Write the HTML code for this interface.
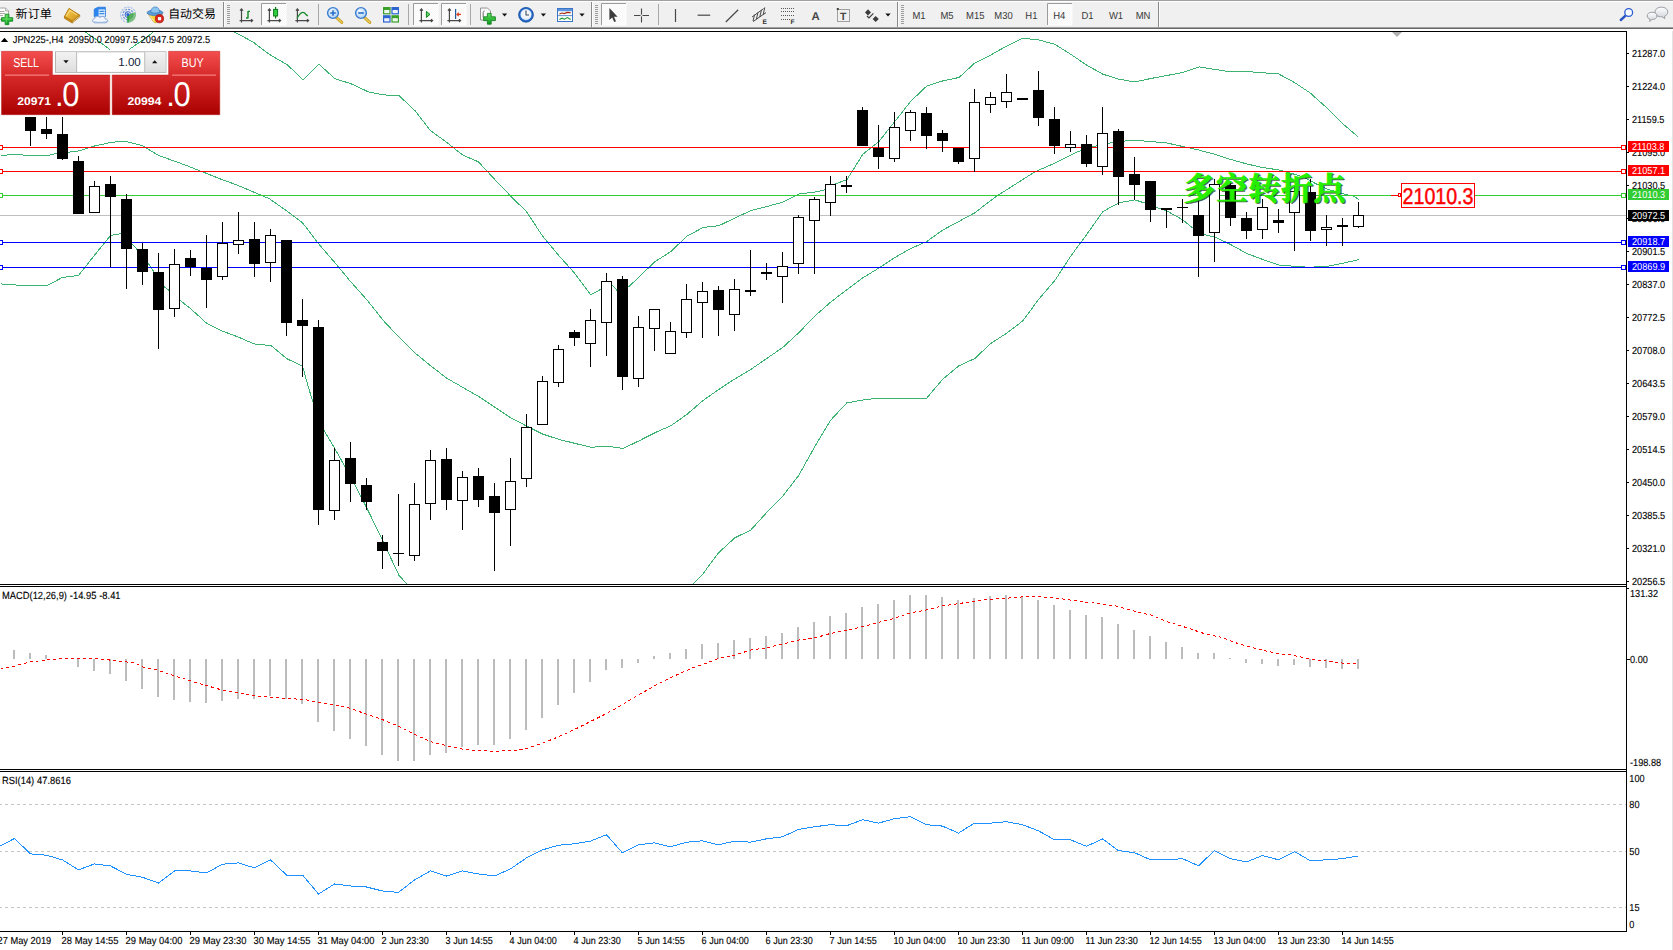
<!DOCTYPE html>
<html><head><meta charset="utf-8"><title>JPN225-,H4</title>
<style>
html,body{margin:0;padding:0;background:#fff;}
body{width:1673px;height:950px;overflow:hidden;position:relative;font-family:"Liberation Sans","Noto Sans CJK SC",sans-serif;}
#tb{position:absolute;left:0;top:0;width:1673px;height:29px;background:#f0f0f0;}
#tb svg{position:absolute;left:0;top:0;}
svg text{text-rendering:geometricPrecision;font-family:"Liberation Sans","Noto Sans CJK SC",sans-serif;}
#chart{position:absolute;left:0;top:0;}
.ax{font-size:10.2px;fill:#000;stroke:#000;stroke-width:0.12px;}
.tx{font-size:10.4px;fill:#000;word-spacing:0.3px;stroke:#000;stroke-width:0.12px;}
.tag{font-size:10.2px;fill:#fff;}
.tf{font-size:10.2px;fill:#3a3a3a;}
#panel{position:absolute;left:0;top:0;}
.cn{font-family:"Liberation Serif","Noto Serif CJK SC",serif;font-weight:700;}
</style></head><body>

<svg id="chart" width="1673" height="950" viewBox="0 0 1673 950">
<defs><clipPath id="cm"><rect x="0" y="32" width="1626" height="552"/></clipPath><linearGradient id="rg" x1="0" y1="0" x2="0" y2="1"><stop offset="0" stop-color="#f24c4c"/><stop offset="0.35" stop-color="#d82a2a"/><stop offset="1" stop-color="#ac0000"/></linearGradient><linearGradient id="bg2" x1="0" y1="0" x2="0" y2="1"><stop offset="0" stop-color="#f4f4f4"/><stop offset="1" stop-color="#dcdcdc"/></linearGradient></defs>
<rect x="0" y="0" width="1673" height="950" fill="#fff"/>
<rect x="1672" y="29" width="1" height="921" fill="#e3e3e3"/>
<g shape-rendering="crispEdges" fill="#000">
<rect x="0" y="31" width="1627" height="1"/>
<rect x="1626" y="31" width="1" height="900"/>
<rect x="0" y="584" width="1627" height="1"/>
<rect x="0" y="586" width="1627" height="1"/>
<rect x="0" y="769" width="1627" height="1"/>
<rect x="0" y="771" width="1627" height="1"/>
<rect x="0" y="931" width="1627" height="1"/>
</g>
<g clip-path="url(#cm)">
<g shape-rendering="crispEdges">
<rect x="0" y="215" width="1626" height="1" fill="#c0c0c0"/>
</g>
<polyline fill="none" stroke="#3cb371" stroke-width="1" shape-rendering="crispEdges" points="70.5,20.5 84.5,31.5 97.3,40.3 108.1,48.1 112.5,52.5 119.5,56.5 126.5,52.5 129.6,49.2 144.0,39.1 154.0,31.5 170.5,22.5 200.5,18.5 220.5,25.5 235.8,32.8 253.0,42.0 270.2,54.9 287.4,64.9 303.2,79.9 319.0,64.1 334.8,78.7 350.6,83.6 369.2,92.2 383.5,94.8 399.3,95.9 415.1,110.8 430.5,130.6 446.5,142.2 462.5,154.9 478.5,161.9 494.5,179.2 510.5,195.9 526.5,211.7 542.5,236.0 558.5,255.2 574.5,273.0 590.8,294.8 600.9,289.3 612.3,285.5 617.3,290.6 628.7,286.8 638.8,277.2 655.0,261.6 670.9,251.5 686.8,236.3 703.0,227.5 718.9,225.7 734.8,218.1 751.0,210.5 766.9,206.5 782.8,202.2 799.0,193.9 814.9,192.1 825.8,189.6 830.8,185.8 847.0,179.5 851.9,171.8 863.0,154.1 878.9,141.5 895.1,121.2 911.0,101.0 926.9,85.9 943.1,80.8 959.0,77.5 974.9,62.9 991.1,54.8 1006.6,46.1 1022.7,38.2 1038.9,40.0 1054.7,44.3 1070.8,54.3 1086.6,65.1 1102.9,74.2 1118.7,79.1 1134.8,82.0 1150.9,78.5 1166.9,75.5 1182.8,72.5 1199.0,66.9 1214.8,69.4 1230.8,71.9 1250.5,71.8 1263.0,72.8 1278.7,74.0 1294.3,82.4 1309.9,92.7 1325.6,106.8 1341.2,122.4 1350.5,130.3 1358.2,137.0"/>
<polyline fill="none" stroke="#3cb371" stroke-width="1" shape-rendering="crispEdges" points="0.5,155.7 5.5,155.7 7.5,154.7 22.5,154.7 24.5,155.7 47.0,155.7 53.5,154.1 62.5,152.8 78.5,151.0 94.5,146.0 110.5,142.5 124.5,141.1 142.0,145.5 158.5,155.5 174.0,160.9 190.0,166.9 206.0,173.2 221.5,179.4 237.5,185.2 253.5,192.0 269.5,198.8 285.5,210.0 302.5,222.7 318.5,243.7 336.5,264.5 350.5,281.5 367.5,300.5 383.1,320.3 398.9,337.1 415.1,353.0 431.0,366.1 446.9,378.3 463.0,387.5 478.9,396.7 495.1,407.3 511.0,418.0 527.1,426.3 543.0,434.2 558.9,439.4 575.1,443.4 590.9,447.3 607.1,446.1 623.0,448.5 638.9,440.9 655.0,432.7 670.9,425.7 686.8,414.5 702.7,400.8 718.7,389.5 734.7,379.0 750.7,369.5 766.7,358.5 782.7,347.5 798.7,332.8 814.7,316.2 830.7,302.1 846.8,289.7 862.8,277.8 878.8,268.1 894.8,257.5 910.8,248.5 926.8,241.5 942.8,230.0 958.8,221.5 974.8,212.8 990.8,200.5 997.1,195.8 1035.0,171.8 1055.3,162.9 1078.0,151.6 1098.2,145.2 1118.4,141.5 1134.8,140.3 1151.0,141.5 1166.9,143.0 1182.8,146.5 1199.0,150.1 1214.9,154.3 1230.9,159.5 1247.1,164.0 1263.1,167.6 1279.1,170.0 1291.8,173.5 1303.7,177.1 1315.7,183.6 1327.2,189.1 1343.2,193.9 1353.9,196.2 1358.7,199.4"/>
<polyline fill="none" stroke="#3cb371" stroke-width="1" shape-rendering="crispEdges" points="0.5,283.9 23.5,285.5 47.0,285.7 62.5,277.4 78.5,275.5 94.5,255.2 110.5,235.5 121.5,233.5 127.5,239.0 143.5,256.5 158.5,278.5 164.5,287.1 169.8,291.0 180.3,300.6 190.8,308.8 206.6,323.2 222.4,331.1 238.2,337.0 254.0,343.9 271.1,345.6 286.8,358.7 302.6,366.2 307.2,383.1 312.5,400.9 324.8,431.8 334.8,448.5 351.0,477.5 366.9,508.1 383.1,541.6 398.9,575.2 407.2,584.4 420.5,600.5"/>
<polyline fill="none" stroke="#3cb371" stroke-width="1" shape-rendering="crispEdges" points="680.5,600.5 692.8,584.3 702.7,574.1 718.7,552.7 734.7,537.9 750.7,530.1 766.7,512.5 782.7,496.1 798.7,475.5 814.7,446.8 830.7,420.1 846.8,402.9 862.8,400.0 878.8,398.0 894.8,398.0 910.8,398.0 926.8,398.0 942.8,379.1 958.8,365.9 974.8,358.5 990.8,343.4 1006.9,333.1 1022.9,320.8 1038.9,299.0 1054.9,280.5 1070.9,255.9 1086.9,234.2 1102.9,211.5 1119.0,202.8 1135.0,199.9 1145.9,203.4 1158.8,208.4 1167.0,211.0 1183.0,220.0 1193.9,229.0 1206.0,235.1 1214.9,237.0 1224.8,241.7 1231.0,244.8 1247.1,253.6 1263.1,259.6 1279.1,265.1 1295.1,266.3 1308.5,267.3 1327.2,266.3 1343.2,263.2 1358.7,259.6"/>
<g shape-rendering="crispEdges">
<rect x="0" y="147" width="1626" height="1" fill="#ff0000"/>
<rect x="-0.5" y="145.5" width="3" height="4" fill="#fff" stroke="#ff0000" stroke-width="1"/>
<rect x="1621.5" y="145.5" width="4" height="4" fill="#fff" stroke="#ff0000" stroke-width="1"/>
<rect x="0" y="171" width="1626" height="1" fill="#ff0000"/>
<rect x="-0.5" y="169.5" width="3" height="4" fill="#fff" stroke="#ff0000" stroke-width="1"/>
<rect x="1621.5" y="169.5" width="4" height="4" fill="#fff" stroke="#ff0000" stroke-width="1"/>
<rect x="0" y="195" width="1626" height="1" fill="#32cd32"/>
<rect x="-0.5" y="193.5" width="3" height="4" fill="#fff" stroke="#32cd32" stroke-width="1"/>
<rect x="1621.5" y="193.5" width="4" height="4" fill="#fff" stroke="#32cd32" stroke-width="1"/>
<rect x="0" y="242" width="1626" height="1" fill="#0000ff"/>
<rect x="-0.5" y="240.5" width="3" height="4" fill="#fff" stroke="#0000ff" stroke-width="1"/>
<rect x="1621.5" y="240.5" width="4" height="4" fill="#fff" stroke="#0000ff" stroke-width="1"/>
<rect x="0" y="267" width="1626" height="1" fill="#0000ff"/>
<rect x="-0.5" y="265.5" width="3" height="4" fill="#fff" stroke="#0000ff" stroke-width="1"/>
<rect x="1621.5" y="265.5" width="4" height="4" fill="#fff" stroke="#0000ff" stroke-width="1"/>
</g>
<g shape-rendering="crispEdges">
<rect x="30" y="105" width="1" height="41" fill="#000"/>
<rect x="25" y="110" width="11" height="21" fill="#000"/>
<rect x="46" y="105" width="1" height="34" fill="#000"/>
<rect x="41" y="129" width="11" height="5" fill="#000"/>
<rect x="62" y="105" width="1" height="55" fill="#000"/>
<rect x="57" y="134" width="11" height="25" fill="#000"/>
<rect x="78" y="156" width="1" height="58" fill="#000"/>
<rect x="73" y="161" width="11" height="53" fill="#000"/>
<rect x="94" y="181" width="1" height="31" fill="#000"/>
<rect x="89.5" y="186.5" width="10" height="26" fill="#fff" stroke="#000" stroke-width="1"/>
<rect x="110" y="176" width="1" height="91" fill="#000"/>
<rect x="105" y="184" width="11" height="13" fill="#000"/>
<rect x="126" y="194" width="1" height="95" fill="#000"/>
<rect x="121" y="199" width="11" height="50" fill="#000"/>
<rect x="142" y="243" width="1" height="42" fill="#000"/>
<rect x="137" y="249" width="11" height="23" fill="#000"/>
<rect x="158" y="253" width="1" height="96" fill="#000"/>
<rect x="153" y="272" width="11" height="38" fill="#000"/>
<rect x="174" y="249" width="1" height="68" fill="#000"/>
<rect x="169.5" y="264.5" width="10" height="44" fill="#fff" stroke="#000" stroke-width="1"/>
<rect x="190" y="250" width="1" height="26" fill="#000"/>
<rect x="185" y="258" width="11" height="9" fill="#000"/>
<rect x="206" y="235" width="1" height="73" fill="#000"/>
<rect x="201" y="268" width="11" height="12" fill="#000"/>
<rect x="222" y="222" width="1" height="58" fill="#000"/>
<rect x="217.5" y="243.5" width="10" height="33" fill="#fff" stroke="#000" stroke-width="1"/>
<rect x="238" y="212" width="1" height="42" fill="#000"/>
<rect x="233.5" y="240.5" width="10" height="4" fill="#fff" stroke="#000" stroke-width="1"/>
<rect x="254" y="222" width="1" height="55" fill="#000"/>
<rect x="249" y="239" width="11" height="25" fill="#000"/>
<rect x="270" y="229" width="1" height="53" fill="#000"/>
<rect x="265.5" y="235.5" width="10" height="27" fill="#fff" stroke="#000" stroke-width="1"/>
<rect x="286" y="240" width="1" height="96" fill="#000"/>
<rect x="281" y="240" width="11" height="83" fill="#000"/>
<rect x="302" y="299" width="1" height="78" fill="#000"/>
<rect x="297" y="320" width="11" height="6" fill="#000"/>
<rect x="318" y="320" width="1" height="205" fill="#000"/>
<rect x="313" y="327" width="11" height="183" fill="#000"/>
<rect x="334" y="448" width="1" height="72" fill="#000"/>
<rect x="329.5" y="460.5" width="10" height="50" fill="#fff" stroke="#000" stroke-width="1"/>
<rect x="350" y="442" width="1" height="60" fill="#000"/>
<rect x="345" y="458" width="11" height="26" fill="#000"/>
<rect x="366" y="478" width="1" height="32" fill="#000"/>
<rect x="361" y="485" width="11" height="17" fill="#000"/>
<rect x="382" y="535" width="1" height="34" fill="#000"/>
<rect x="377" y="542" width="11" height="9" fill="#000"/>
<rect x="398" y="494" width="1" height="72" fill="#000"/>
<rect x="393" y="553" width="11" height="1" fill="#000"/>
<rect x="414" y="483" width="1" height="78" fill="#000"/>
<rect x="409.5" y="504.5" width="10" height="51" fill="#fff" stroke="#000" stroke-width="1"/>
<rect x="430" y="450" width="1" height="70" fill="#000"/>
<rect x="425.5" y="460.5" width="10" height="43" fill="#fff" stroke="#000" stroke-width="1"/>
<rect x="446" y="448" width="1" height="62" fill="#000"/>
<rect x="441" y="459" width="11" height="41" fill="#000"/>
<rect x="462" y="471" width="1" height="59" fill="#000"/>
<rect x="457.5" y="477.5" width="10" height="23" fill="#fff" stroke="#000" stroke-width="1"/>
<rect x="478" y="468" width="1" height="39" fill="#000"/>
<rect x="473" y="476" width="11" height="24" fill="#000"/>
<rect x="494" y="483" width="1" height="88" fill="#000"/>
<rect x="489" y="496" width="11" height="17" fill="#000"/>
<rect x="510" y="458" width="1" height="88" fill="#000"/>
<rect x="505.5" y="481.5" width="10" height="28" fill="#fff" stroke="#000" stroke-width="1"/>
<rect x="526" y="414" width="1" height="73" fill="#000"/>
<rect x="521.5" y="427.5" width="10" height="51" fill="#fff" stroke="#000" stroke-width="1"/>
<rect x="542" y="376" width="1" height="48" fill="#000"/>
<rect x="537.5" y="381.5" width="10" height="43" fill="#fff" stroke="#000" stroke-width="1"/>
<rect x="558" y="345" width="1" height="42" fill="#000"/>
<rect x="553.5" y="349.5" width="10" height="33" fill="#fff" stroke="#000" stroke-width="1"/>
<rect x="574" y="330" width="1" height="16" fill="#000"/>
<rect x="569" y="332" width="11" height="6" fill="#000"/>
<rect x="590" y="309" width="1" height="58" fill="#000"/>
<rect x="585.5" y="320.5" width="10" height="23" fill="#fff" stroke="#000" stroke-width="1"/>
<rect x="606" y="273" width="1" height="83" fill="#000"/>
<rect x="601.5" y="281.5" width="10" height="41" fill="#fff" stroke="#000" stroke-width="1"/>
<rect x="622" y="276" width="1" height="114" fill="#000"/>
<rect x="617" y="279" width="11" height="98" fill="#000"/>
<rect x="638" y="316" width="1" height="71" fill="#000"/>
<rect x="633.5" y="327.5" width="10" height="51" fill="#fff" stroke="#000" stroke-width="1"/>
<rect x="654" y="309" width="1" height="42" fill="#000"/>
<rect x="649.5" y="309.5" width="10" height="19" fill="#fff" stroke="#000" stroke-width="1"/>
<rect x="670" y="322" width="1" height="31" fill="#000"/>
<rect x="665.5" y="331.5" width="10" height="22" fill="#fff" stroke="#000" stroke-width="1"/>
<rect x="686" y="284" width="1" height="54" fill="#000"/>
<rect x="681.5" y="299.5" width="10" height="33" fill="#fff" stroke="#000" stroke-width="1"/>
<rect x="702" y="282" width="1" height="56" fill="#000"/>
<rect x="697.5" y="291.5" width="10" height="11" fill="#fff" stroke="#000" stroke-width="1"/>
<rect x="718" y="286" width="1" height="50" fill="#000"/>
<rect x="713" y="290" width="11" height="20" fill="#000"/>
<rect x="734" y="279" width="1" height="52" fill="#000"/>
<rect x="729.5" y="289.5" width="10" height="25" fill="#fff" stroke="#000" stroke-width="1"/>
<rect x="750" y="250" width="1" height="46" fill="#000"/>
<rect x="745" y="290" width="11" height="2" fill="#000"/>
<rect x="766" y="263" width="1" height="17" fill="#000"/>
<rect x="761" y="272" width="11" height="2" fill="#000"/>
<rect x="782" y="252" width="1" height="51" fill="#000"/>
<rect x="777.5" y="266.5" width="10" height="10" fill="#fff" stroke="#000" stroke-width="1"/>
<rect x="798" y="215" width="1" height="59" fill="#000"/>
<rect x="793.5" y="217.5" width="10" height="46" fill="#fff" stroke="#000" stroke-width="1"/>
<rect x="814" y="197" width="1" height="77" fill="#000"/>
<rect x="809.5" y="199.5" width="10" height="21" fill="#fff" stroke="#000" stroke-width="1"/>
<rect x="830" y="176" width="1" height="40" fill="#000"/>
<rect x="825.5" y="184.5" width="10" height="18" fill="#fff" stroke="#000" stroke-width="1"/>
<rect x="846" y="176" width="1" height="17" fill="#000"/>
<rect x="841" y="185" width="11" height="2" fill="#000"/>
<rect x="862" y="107" width="1" height="39" fill="#000"/>
<rect x="857" y="110" width="11" height="36" fill="#000"/>
<rect x="878" y="125" width="1" height="44" fill="#000"/>
<rect x="873" y="148" width="11" height="9" fill="#000"/>
<rect x="894" y="112" width="1" height="50" fill="#000"/>
<rect x="889.5" y="127.5" width="10" height="31" fill="#fff" stroke="#000" stroke-width="1"/>
<rect x="910" y="110" width="1" height="31" fill="#000"/>
<rect x="905.5" y="112.5" width="10" height="18" fill="#fff" stroke="#000" stroke-width="1"/>
<rect x="926" y="107" width="1" height="42" fill="#000"/>
<rect x="921" y="113" width="11" height="23" fill="#000"/>
<rect x="942" y="130" width="1" height="22" fill="#000"/>
<rect x="937" y="133" width="11" height="8" fill="#000"/>
<rect x="958" y="148" width="1" height="16" fill="#000"/>
<rect x="953" y="148" width="11" height="14" fill="#000"/>
<rect x="974" y="89" width="1" height="83" fill="#000"/>
<rect x="969.5" y="102.5" width="10" height="56" fill="#fff" stroke="#000" stroke-width="1"/>
<rect x="990" y="92" width="1" height="21" fill="#000"/>
<rect x="985.5" y="97.5" width="10" height="7" fill="#fff" stroke="#000" stroke-width="1"/>
<rect x="1006" y="74" width="1" height="34" fill="#000"/>
<rect x="1001.5" y="92.5" width="10" height="9" fill="#fff" stroke="#000" stroke-width="1"/>
<rect x="1022" y="98" width="1" height="2" fill="#000"/>
<rect x="1017" y="98" width="11" height="2" fill="#000"/>
<rect x="1038" y="71" width="1" height="55" fill="#000"/>
<rect x="1033" y="90" width="11" height="28" fill="#000"/>
<rect x="1054" y="107" width="1" height="47" fill="#000"/>
<rect x="1049" y="119" width="11" height="27" fill="#000"/>
<rect x="1070" y="131" width="1" height="21" fill="#000"/>
<rect x="1065.5" y="144.5" width="10" height="3" fill="#fff" stroke="#000" stroke-width="1"/>
<rect x="1086" y="135" width="1" height="32" fill="#000"/>
<rect x="1081" y="144" width="11" height="20" fill="#000"/>
<rect x="1102" y="107" width="1" height="68" fill="#000"/>
<rect x="1097.5" y="133.5" width="10" height="33" fill="#fff" stroke="#000" stroke-width="1"/>
<rect x="1118" y="129" width="1" height="76" fill="#000"/>
<rect x="1113" y="131" width="11" height="46" fill="#000"/>
<rect x="1134" y="157" width="1" height="43" fill="#000"/>
<rect x="1129" y="174" width="11" height="11" fill="#000"/>
<rect x="1150" y="181" width="1" height="41" fill="#000"/>
<rect x="1145" y="181" width="11" height="29" fill="#000"/>
<rect x="1166" y="208" width="1" height="20" fill="#000"/>
<rect x="1161" y="208" width="11" height="2" fill="#000"/>
<rect x="1182" y="199" width="1" height="24" fill="#000"/>
<rect x="1177" y="207" width="11" height="1" fill="#000"/>
<rect x="1198" y="200" width="1" height="77" fill="#000"/>
<rect x="1193" y="215" width="11" height="21" fill="#000"/>
<rect x="1214" y="179" width="1" height="83" fill="#000"/>
<rect x="1209.5" y="184.5" width="10" height="48" fill="#fff" stroke="#000" stroke-width="1"/>
<rect x="1230" y="183" width="1" height="43" fill="#000"/>
<rect x="1225" y="185" width="11" height="33" fill="#000"/>
<rect x="1246" y="212" width="1" height="27" fill="#000"/>
<rect x="1241" y="218" width="11" height="13" fill="#000"/>
<rect x="1262" y="199" width="1" height="40" fill="#000"/>
<rect x="1257.5" y="207.5" width="10" height="22" fill="#fff" stroke="#000" stroke-width="1"/>
<rect x="1278" y="209" width="1" height="24" fill="#000"/>
<rect x="1273" y="220" width="11" height="3" fill="#000"/>
<rect x="1294" y="186" width="1" height="65" fill="#000"/>
<rect x="1289.5" y="191.5" width="10" height="21" fill="#fff" stroke="#000" stroke-width="1"/>
<rect x="1310" y="179" width="1" height="62" fill="#000"/>
<rect x="1305" y="192" width="11" height="39" fill="#000"/>
<rect x="1326" y="215" width="1" height="31" fill="#000"/>
<rect x="1321.5" y="227.5" width="10" height="2" fill="#fff" stroke="#000" stroke-width="1"/>
<rect x="1342" y="218" width="1" height="28" fill="#000"/>
<rect x="1337" y="225" width="11" height="2" fill="#000"/>
<rect x="1358" y="202" width="1" height="26" fill="#000"/>
<rect x="1353.5" y="215.5" width="10" height="11" fill="#fff" stroke="#000" stroke-width="1"/>
</g>
<polygon points="1392,32 1402,32 1397,37" fill="#b0b0b0"/>
<g shape-rendering="crispEdges"><rect x="1391" y="195" width="10" height="1" fill="#ff0000"/><rect x="1398.5" y="193.5" width="2" height="3" fill="#fff" stroke="#ff0000" stroke-width="1"/><rect x="1401.5" y="183.5" width="73" height="24" fill="#fff" stroke="#ff0000" stroke-width="1"/></g>
<text transform="translate(1438 204) scale(0.868 1)" text-anchor="middle" font-size="22.6" fill="#ff0000" stroke="#ff0000" stroke-width="0.45">21010.3</text>
<text class="cn" x="1183.5" y="200" font-size="32" fill="#082808" stroke="#082808" stroke-width="0.5" opacity="0.75" textLength="162" lengthAdjust="spacing" transform="translate(1.2,1.2)">多空转折点</text>
<text class="cn" x="1183.5" y="200" font-size="32" fill="#24f000" stroke="#24f000" stroke-width="0.7" textLength="162" lengthAdjust="spacing">多空转折点</text>
</g>
<g shape-rendering="crispEdges">
<rect x="1627" y="53" width="2" height="1" fill="#000"/>
<rect x="1627" y="86" width="2" height="1" fill="#000"/>
<rect x="1627" y="119" width="2" height="1" fill="#000"/>
<rect x="1627" y="152" width="2" height="1" fill="#000"/>
<rect x="1627" y="185" width="2" height="1" fill="#000"/>
<rect x="1627" y="218" width="2" height="1" fill="#000"/>
<rect x="1627" y="251" width="2" height="1" fill="#000"/>
<rect x="1627" y="284" width="2" height="1" fill="#000"/>
<rect x="1627" y="317" width="2" height="1" fill="#000"/>
<rect x="1627" y="350" width="2" height="1" fill="#000"/>
<rect x="1627" y="383" width="2" height="1" fill="#000"/>
<rect x="1627" y="416" width="2" height="1" fill="#000"/>
<rect x="1627" y="449" width="2" height="1" fill="#000"/>
<rect x="1627" y="482" width="2" height="1" fill="#000"/>
<rect x="1627" y="515" width="2" height="1" fill="#000"/>
<rect x="1627" y="548" width="2" height="1" fill="#000"/>
<rect x="1627" y="581" width="2" height="1" fill="#000"/>
</g>
<text class="ax" transform="translate(1632.0 57.0) scale(0.900 1)">21287.0</text>
<text class="ax" transform="translate(1632.0 90.0) scale(0.900 1)">21224.0</text>
<text class="ax" transform="translate(1632.0 123.0) scale(0.900 1)">21159.5</text>
<text class="ax" transform="translate(1632.0 156.0) scale(0.900 1)">21095.0</text>
<text class="ax" transform="translate(1632.0 189.0) scale(0.900 1)">21030.5</text>
<text class="ax" transform="translate(1632.0 222.0) scale(0.900 1)">20966.0</text>
<text class="ax" transform="translate(1632.0 255.0) scale(0.900 1)">20901.5</text>
<text class="ax" transform="translate(1632.0 288.0) scale(0.900 1)">20837.0</text>
<text class="ax" transform="translate(1632.0 321.0) scale(0.900 1)">20772.5</text>
<text class="ax" transform="translate(1632.0 354.0) scale(0.900 1)">20708.0</text>
<text class="ax" transform="translate(1632.0 387.0) scale(0.900 1)">20643.5</text>
<text class="ax" transform="translate(1632.0 420.0) scale(0.900 1)">20579.0</text>
<text class="ax" transform="translate(1632.0 453.0) scale(0.900 1)">20514.5</text>
<text class="ax" transform="translate(1632.0 486.0) scale(0.900 1)">20450.0</text>
<text class="ax" transform="translate(1632.0 519.0) scale(0.900 1)">20385.5</text>
<text class="ax" transform="translate(1632.0 552.0) scale(0.900 1)">20321.0</text>
<text class="ax" transform="translate(1632.0 585.0) scale(0.900 1)">20256.5</text>
<rect x="1628" y="141.0" width="41" height="11" fill="#ff0000" shape-rendering="crispEdges"/>
<text class="tag" transform="translate(1632.0 150.0) scale(0.900 1)">21103.8</text>
<rect x="1628" y="165.0" width="41" height="11" fill="#ff0000" shape-rendering="crispEdges"/>
<text class="tag" transform="translate(1632.0 174.0) scale(0.900 1)">21057.1</text>
<rect x="1628" y="189.0" width="41" height="11" fill="#32cd32" shape-rendering="crispEdges"/>
<text class="tag" transform="translate(1632.0 198.0) scale(0.900 1)">21010.3</text>
<rect x="1628" y="210.0" width="41" height="11" fill="#000000" shape-rendering="crispEdges"/>
<text class="tag" transform="translate(1632.0 219.0) scale(0.900 1)">20972.5</text>
<rect x="1628" y="236.0" width="41" height="11" fill="#0000ff" shape-rendering="crispEdges"/>
<text class="tag" transform="translate(1632.0 245.0) scale(0.900 1)">20918.7</text>
<rect x="1628" y="261.0" width="41" height="11" fill="#0000ff" shape-rendering="crispEdges"/>
<text class="tag" transform="translate(1632.0 270.0) scale(0.900 1)">20869.9</text>
<polygon points="0.8,42 8.2,42 4.5,37.8" fill="#000"/>
<text class="ax" x="12.8" y="43" textLength="197.4" lengthAdjust="spacingAndGlyphs" xml:space="preserve">JPN225-,H4  20950.0 20997.5 20947.5 20972.5</text>
<g shape-rendering="crispEdges">
<rect x="13" y="650" width="2" height="9" fill="#bcbcbc"/>
<rect x="29" y="653" width="2" height="6" fill="#bcbcbc"/>
<rect x="45" y="655" width="2" height="4" fill="#bcbcbc"/>
<rect x="77" y="659" width="2" height="8" fill="#bcbcbc"/>
<rect x="93" y="659" width="2" height="12" fill="#bcbcbc"/>
<rect x="109" y="659" width="2" height="15" fill="#bcbcbc"/>
<rect x="125" y="659" width="2" height="22" fill="#bcbcbc"/>
<rect x="141" y="659" width="2" height="30" fill="#bcbcbc"/>
<rect x="157" y="659" width="2" height="38" fill="#bcbcbc"/>
<rect x="173" y="659" width="2" height="41" fill="#bcbcbc"/>
<rect x="189" y="659" width="2" height="43" fill="#bcbcbc"/>
<rect x="205" y="659" width="2" height="44" fill="#bcbcbc"/>
<rect x="221" y="659" width="2" height="42" fill="#bcbcbc"/>
<rect x="237" y="659" width="2" height="40" fill="#bcbcbc"/>
<rect x="253" y="659" width="2" height="40" fill="#bcbcbc"/>
<rect x="269" y="659" width="2" height="37" fill="#bcbcbc"/>
<rect x="285" y="659" width="2" height="40" fill="#bcbcbc"/>
<rect x="301" y="659" width="2" height="45" fill="#bcbcbc"/>
<rect x="317" y="659" width="2" height="63" fill="#bcbcbc"/>
<rect x="333" y="659" width="2" height="72" fill="#bcbcbc"/>
<rect x="349" y="659" width="2" height="80" fill="#bcbcbc"/>
<rect x="365" y="659" width="2" height="87" fill="#bcbcbc"/>
<rect x="381" y="659" width="2" height="96" fill="#bcbcbc"/>
<rect x="397" y="659" width="2" height="102" fill="#bcbcbc"/>
<rect x="413" y="659" width="2" height="102" fill="#bcbcbc"/>
<rect x="429" y="659" width="2" height="96" fill="#bcbcbc"/>
<rect x="445" y="659" width="2" height="94" fill="#bcbcbc"/>
<rect x="461" y="659" width="2" height="88" fill="#bcbcbc"/>
<rect x="477" y="659" width="2" height="86" fill="#bcbcbc"/>
<rect x="493" y="659" width="2" height="86" fill="#bcbcbc"/>
<rect x="509" y="659" width="2" height="80" fill="#bcbcbc"/>
<rect x="525" y="659" width="2" height="71" fill="#bcbcbc"/>
<rect x="541" y="659" width="2" height="59" fill="#bcbcbc"/>
<rect x="557" y="659" width="2" height="46" fill="#bcbcbc"/>
<rect x="573" y="659" width="2" height="34" fill="#bcbcbc"/>
<rect x="589" y="659" width="2" height="23" fill="#bcbcbc"/>
<rect x="605" y="659" width="2" height="11" fill="#bcbcbc"/>
<rect x="621" y="659" width="2" height="9" fill="#bcbcbc"/>
<rect x="637" y="659" width="2" height="4" fill="#bcbcbc"/>
<rect x="653" y="656" width="2" height="3" fill="#bcbcbc"/>
<rect x="669" y="653" width="2" height="6" fill="#bcbcbc"/>
<rect x="685" y="649" width="2" height="10" fill="#bcbcbc"/>
<rect x="701" y="644" width="2" height="15" fill="#bcbcbc"/>
<rect x="717" y="643" width="2" height="16" fill="#bcbcbc"/>
<rect x="733" y="640" width="2" height="19" fill="#bcbcbc"/>
<rect x="749" y="638" width="2" height="21" fill="#bcbcbc"/>
<rect x="765" y="636" width="2" height="23" fill="#bcbcbc"/>
<rect x="781" y="633" width="2" height="26" fill="#bcbcbc"/>
<rect x="797" y="627" width="2" height="32" fill="#bcbcbc"/>
<rect x="813" y="622" width="2" height="37" fill="#bcbcbc"/>
<rect x="829" y="616" width="2" height="43" fill="#bcbcbc"/>
<rect x="845" y="613" width="2" height="46" fill="#bcbcbc"/>
<rect x="861" y="607" width="2" height="52" fill="#bcbcbc"/>
<rect x="877" y="604" width="2" height="55" fill="#bcbcbc"/>
<rect x="893" y="600" width="2" height="59" fill="#bcbcbc"/>
<rect x="909" y="595" width="2" height="64" fill="#bcbcbc"/>
<rect x="925" y="595" width="2" height="64" fill="#bcbcbc"/>
<rect x="941" y="597" width="2" height="62" fill="#bcbcbc"/>
<rect x="957" y="600" width="2" height="59" fill="#bcbcbc"/>
<rect x="973" y="598" width="2" height="61" fill="#bcbcbc"/>
<rect x="989" y="596" width="2" height="63" fill="#bcbcbc"/>
<rect x="1005" y="595" width="2" height="64" fill="#bcbcbc"/>
<rect x="1021" y="597" width="2" height="62" fill="#bcbcbc"/>
<rect x="1037" y="600" width="2" height="59" fill="#bcbcbc"/>
<rect x="1053" y="605" width="2" height="54" fill="#bcbcbc"/>
<rect x="1069" y="610" width="2" height="49" fill="#bcbcbc"/>
<rect x="1085" y="615" width="2" height="44" fill="#bcbcbc"/>
<rect x="1101" y="617" width="2" height="42" fill="#bcbcbc"/>
<rect x="1117" y="624" width="2" height="35" fill="#bcbcbc"/>
<rect x="1133" y="630" width="2" height="29" fill="#bcbcbc"/>
<rect x="1149" y="636" width="2" height="23" fill="#bcbcbc"/>
<rect x="1165" y="642" width="2" height="17" fill="#bcbcbc"/>
<rect x="1181" y="647" width="2" height="12" fill="#bcbcbc"/>
<rect x="1197" y="653" width="2" height="6" fill="#bcbcbc"/>
<rect x="1213" y="653" width="2" height="6" fill="#bcbcbc"/>
<rect x="1229" y="658" width="2" height="1" fill="#bcbcbc"/>
<rect x="1245" y="659" width="2" height="4" fill="#bcbcbc"/>
<rect x="1261" y="659" width="2" height="5" fill="#bcbcbc"/>
<rect x="1277" y="659" width="2" height="7" fill="#bcbcbc"/>
<rect x="1293" y="659" width="2" height="6" fill="#bcbcbc"/>
<rect x="1309" y="659" width="2" height="8" fill="#bcbcbc"/>
<rect x="1325" y="659" width="2" height="9" fill="#bcbcbc"/>
<rect x="1341" y="659" width="2" height="10" fill="#bcbcbc"/>
<rect x="1357" y="659" width="2" height="10" fill="#bcbcbc"/>
</g>
<polyline fill="none" stroke="#ff0000" stroke-width="1" shape-rendering="crispEdges" stroke-dasharray="3,3" points="0.5,669.2 13.9,666.2 30.5,661.8 46.5,660.1 60.5,658.5 94.5,658.5 110.5,660.1 134.5,662.8 142.5,666.8 157.5,670.2 174.5,675.8 191.5,681.2 206.5,685.6 223.1,690.3 238.2,692.9 254.9,696.0 270.0,697.3 286.7,698.6 303.5,699.3 318.5,702.6 335.2,705.0 350.3,708.3 367.0,714.4 382.1,719.4 398.8,726.4 414.5,734.4 430.5,741.5 445.7,745.5 462.5,749.2 479.2,750.8 494.2,751.2 511.0,750.8 526.0,748.8 542.8,743.1 557.8,737.1 574.0,729.8 590.7,721.4 607.5,713.0 624.2,703.7 640.9,693.6 657.7,684.2 674.4,675.9 691.1,668.5 707.9,662.5 721.3,657.5 734.6,655.1 750.7,650.1 766.8,647.8 782.5,644.1 798.5,640.1 814.5,638.0 830.7,633.4 846.5,630.3 862.5,626.7 878.5,622.3 894.5,618.3 910.5,612.9 926.5,609.9 942.5,605.9 958.5,603.6 974.5,601.2 990.5,599.2 1006.5,598.2 1022.5,596.9 1042.5,596.9 1059.3,598.5 1076.1,600.9 1092.8,602.9 1115.9,606.0 1133.7,611.0 1151.4,615.2 1169.1,622.3 1186.8,627.7 1204.5,633.7 1222.3,637.6 1240.0,644.3 1257.7,648.9 1275.5,653.2 1293.2,655.3 1310.9,659.2 1328.6,661.3 1342.8,663.1 1358.4,664.2"/>
<text class="tx" transform="translate(2.0 599.0) scale(0.900 1)">MACD(12,26,9) -14.95 -8.41</text>
<text class="ax" transform="translate(1630.0 597.0) scale(0.900 1)">131.32</text>
<text class="ax" transform="translate(1630.0 663.0) scale(0.900 1)">0.00</text>
<text class="ax" transform="translate(1630.0 766.0) scale(0.900 1)">-198.88</text>
<g shape-rendering="crispEdges"><rect x="1627" y="588" width="2" height="1" fill="#000"/><rect x="1627" y="659" width="3" height="1" fill="#000"/></g>
<g shape-rendering="crispEdges">
<line x1="0" y1="804.5" x2="1626" y2="804.5" stroke="#c4c4c4" stroke-width="1" stroke-dasharray="3,3" stroke-dashoffset="1"/>
<line x1="0" y1="851.5" x2="1626" y2="851.5" stroke="#c4c4c4" stroke-width="1" stroke-dasharray="3,3" stroke-dashoffset="1"/>
<line x1="0" y1="907.5" x2="1626" y2="907.5" stroke="#c4c4c4" stroke-width="1" stroke-dasharray="3,3" stroke-dashoffset="1"/>
</g>
<polyline fill="none" stroke="#1e90ff" stroke-width="1" shape-rendering="crispEdges" points="0.5,845.8 14.5,838.5 30.5,853.9 46.5,855.2 62.5,859.9 78.5,869.9 94.5,863.9 110.5,865.9 126.5,874.3 142.5,877.3 158.5,883.0 174.5,870.9 190.5,870.9 206.5,872.9 222.5,864.2 238.5,862.9 254.5,867.9 270.5,859.9 286.5,875.0 302.5,875.0 318.5,894.0 334.5,884.0 350.5,886.0 366.5,887.0 382.5,891.0 398.5,892.4 414.5,880.0 430.5,870.9 446.5,876.0 462.5,870.9 478.5,874.0 494.5,876.0 510.5,868.9 526.5,857.9 542.5,849.9 542.5,849.9 558.5,845.2 574.5,843.8 590.5,841.1 606.5,834.8 622.5,852.9 638.5,844.8 654.5,842.8 670.5,846.8 686.5,842.2 702.5,840.8 718.5,844.8 734.5,841.1 750.5,842.2 766.5,838.8 782.5,836.8 798.5,829.4 814.5,826.8 830.5,824.7 846.5,825.8 862.5,819.7 878.5,823.1 894.5,818.7 910.5,816.7 926.5,824.7 942.5,826.1 958.5,833.1 974.5,823.1 990.5,823.1 1006.5,821.7 1022.5,824.7 1038.5,830.8 1054.5,839.8 1070.5,839.8 1086.5,846.3 1102.5,838.9 1118.5,850.6 1134.5,852.7 1150.5,859.8 1166.5,859.8 1182.5,858.7 1198.5,865.8 1214.5,850.6 1230.5,858.7 1246.5,861.9 1262.5,855.5 1278.5,859.8 1294.5,851.6 1310.5,860.8 1326.5,859.8 1342.5,858.7 1358.5,855.9"/>
<text class="tx" transform="translate(2.0 784.0) scale(0.900 1)">RSI(14) 47.8616</text>
<text class="ax" transform="translate(1629.3 782.0) scale(0.900 1)">100</text>
<text class="ax" transform="translate(1629.3 808.0) scale(0.900 1)">80</text>
<text class="ax" transform="translate(1629.3 855.0) scale(0.900 1)">50</text>
<text class="ax" transform="translate(1629.3 911.0) scale(0.900 1)">15</text>
<text class="ax" transform="translate(1629.3 928.0) scale(0.900 1)">0</text>
<g shape-rendering="crispEdges">
<rect x="-2" y="931" width="1" height="4" fill="#000"/>
<rect x="62" y="931" width="1" height="4" fill="#000"/>
<rect x="126" y="931" width="1" height="4" fill="#000"/>
<rect x="190" y="931" width="1" height="4" fill="#000"/>
<rect x="254" y="931" width="1" height="4" fill="#000"/>
<rect x="318" y="931" width="1" height="4" fill="#000"/>
<rect x="382" y="931" width="1" height="4" fill="#000"/>
<rect x="446" y="931" width="1" height="4" fill="#000"/>
<rect x="510" y="931" width="1" height="4" fill="#000"/>
<rect x="574" y="931" width="1" height="4" fill="#000"/>
<rect x="638" y="931" width="1" height="4" fill="#000"/>
<rect x="702" y="931" width="1" height="4" fill="#000"/>
<rect x="766" y="931" width="1" height="4" fill="#000"/>
<rect x="830" y="931" width="1" height="4" fill="#000"/>
<rect x="894" y="931" width="1" height="4" fill="#000"/>
<rect x="958" y="931" width="1" height="4" fill="#000"/>
<rect x="1022" y="931" width="1" height="4" fill="#000"/>
<rect x="1086" y="931" width="1" height="4" fill="#000"/>
<rect x="1150" y="931" width="1" height="4" fill="#000"/>
<rect x="1214" y="931" width="1" height="4" fill="#000"/>
<rect x="1278" y="931" width="1" height="4" fill="#000"/>
<rect x="1342" y="931" width="1" height="4" fill="#000"/>
</g>
<text class="ax" x="-2.4" y="944" textLength="53.6" lengthAdjust="spacingAndGlyphs">27 May 2019</text>
<text class="ax" x="61.6" y="944" textLength="56.9" lengthAdjust="spacingAndGlyphs">28 May 14:55</text>
<text class="ax" x="125.6" y="944" textLength="56.9" lengthAdjust="spacingAndGlyphs">29 May 04:00</text>
<text class="ax" x="189.6" y="944" textLength="56.9" lengthAdjust="spacingAndGlyphs">29 May 23:30</text>
<text class="ax" x="253.6" y="944" textLength="56.9" lengthAdjust="spacingAndGlyphs">30 May 14:55</text>
<text class="ax" x="317.6" y="944" textLength="56.9" lengthAdjust="spacingAndGlyphs">31 May 04:00</text>
<text class="ax" x="381.6" y="944" textLength="47.2" lengthAdjust="spacingAndGlyphs">2 Jun 23:30</text>
<text class="ax" x="445.6" y="944" textLength="47.2" lengthAdjust="spacingAndGlyphs">3 Jun 14:55</text>
<text class="ax" x="509.6" y="944" textLength="47.2" lengthAdjust="spacingAndGlyphs">4 Jun 04:00</text>
<text class="ax" x="573.6" y="944" textLength="47.2" lengthAdjust="spacingAndGlyphs">4 Jun 23:30</text>
<text class="ax" x="637.6" y="944" textLength="47.2" lengthAdjust="spacingAndGlyphs">5 Jun 14:55</text>
<text class="ax" x="701.6" y="944" textLength="47.2" lengthAdjust="spacingAndGlyphs">6 Jun 04:00</text>
<text class="ax" x="765.6" y="944" textLength="47.2" lengthAdjust="spacingAndGlyphs">6 Jun 23:30</text>
<text class="ax" x="829.6" y="944" textLength="47.2" lengthAdjust="spacingAndGlyphs">7 Jun 14:55</text>
<text class="ax" x="893.6" y="944" textLength="52.3" lengthAdjust="spacingAndGlyphs">10 Jun 04:00</text>
<text class="ax" x="957.6" y="944" textLength="52.3" lengthAdjust="spacingAndGlyphs">10 Jun 23:30</text>
<text class="ax" x="1021.6" y="944" textLength="52.3" lengthAdjust="spacingAndGlyphs">11 Jun 09:00</text>
<text class="ax" x="1085.6" y="944" textLength="52.3" lengthAdjust="spacingAndGlyphs">11 Jun 23:30</text>
<text class="ax" x="1149.6" y="944" textLength="52.3" lengthAdjust="spacingAndGlyphs">12 Jun 14:55</text>
<text class="ax" x="1213.6" y="944" textLength="52.3" lengthAdjust="spacingAndGlyphs">13 Jun 04:00</text>
<text class="ax" x="1277.6" y="944" textLength="52.3" lengthAdjust="spacingAndGlyphs">13 Jun 23:30</text>
<text class="ax" x="1341.6" y="944" textLength="52.3" lengthAdjust="spacingAndGlyphs">14 Jun 14:55</text>
</svg>
<svg id="panel" width="230" height="120" viewBox="0 0 230 120">
<defs><linearGradient id="pr" x1="0" y1="0" x2="0" y2="1"><stop offset="0" stop-color="#f34e4e"/><stop offset="0.4" stop-color="#d62828"/><stop offset="1" stop-color="#aa0000"/></linearGradient><linearGradient id="pb" x1="0" y1="0" x2="0" y2="1"><stop offset="0" stop-color="#f2f2f2"/><stop offset="1" stop-color="#dedede"/></linearGradient></defs>
<rect x="0" y="50" width="222" height="67" fill="#fff"/>
<path d="M1.5 51.3H52.4V75H109.8V114.7H1.5Z" fill="url(#pr)" stroke="#b41414" stroke-opacity="0.55" stroke-width="0.8"/>
<path d="M168.6 51.3H219.8V114.7H112.2V75H168.6Z" fill="url(#pr)" stroke="#b41414" stroke-opacity="0.55" stroke-width="0.8"/>
<rect x="5" y="74.6" width="44" height="1" fill="#f89494"/>
<rect x="172" y="74.6" width="44" height="1" fill="#f89494"/>
<rect x="55.5" y="51.8" width="110.4" height="20.6" fill="#fff" stroke="#b4b4b4" stroke-width="1"/>
<rect x="56" y="52.3" width="20.4" height="19.6" fill="url(#pb)"/>
<rect x="145" y="52.3" width="20.4" height="19.6" fill="url(#pb)"/>
<rect x="76.2" y="52" width="0.9" height="20" fill="#b4b4b4"/><rect x="144.3" y="52" width="0.9" height="20" fill="#b4b4b4"/>
<polygon points="63.3,60.3 68.7,60.3 66,63.3" fill="#111"/>
<polygon points="152,63.3 157.4,63.3 154.7,60.3" fill="#111"/>
<text x="140.8" y="66" text-anchor="end" font-size="11.6" fill="#14233c">1.00</text>
<text x="13.2" y="67.2" font-size="12.8" fill="#fff" textLength="25.8" lengthAdjust="spacingAndGlyphs">SELL</text>
<text x="181.5" y="67.2" font-size="12.8" fill="#fff" textLength="22.2" lengthAdjust="spacingAndGlyphs">BUY</text>
<text x="17.2" y="105.4" font-size="11.2" font-weight="bold" fill="#fff" textLength="33.7" lengthAdjust="spacingAndGlyphs">20971</text>
<text x="127.4" y="105.4" font-size="11.2" font-weight="bold" fill="#fff" textLength="34" lengthAdjust="spacingAndGlyphs">20994</text>
<text x="55" y="106.3" font-size="31" fill="#fff">.</text><g transform="translate(62.3,106.2) scale(0.9,1)"><text x="0" y="0" font-size="34.4" fill="#fff">0</text></g>
<text x="166.2" y="106.3" font-size="31" fill="#fff">.</text><g transform="translate(173.6,106.2) scale(0.9,1)"><text x="0" y="0" font-size="34.4" fill="#fff">0</text></g>
</svg>
<div id="tb"><svg width="1673" height="31" viewBox="0 0 1673 31">
<defs>
<linearGradient id="gold" x1="0" y1="0" x2="1" y2="1"><stop offset="0" stop-color="#ffd65a"/><stop offset="1" stop-color="#c98a10"/></linearGradient>
<linearGradient id="blu" x1="0" y1="0" x2="0" y2="1"><stop offset="0" stop-color="#7db4f0"/><stop offset="1" stop-color="#1c5fc4"/></linearGradient>
<linearGradient id="grn" x1="0" y1="0" x2="0" y2="1"><stop offset="0" stop-color="#5fe05f"/><stop offset="1" stop-color="#0a9a1c"/></linearGradient>
<radialGradient id="lens" cx="0.4" cy="0.35" r="0.7"><stop offset="0" stop-color="#f4faff"/><stop offset="1" stop-color="#a8cff2"/></radialGradient>
<radialGradient id="clk" cx="0.5" cy="0.45" r="0.6"><stop offset="0" stop-color="#ffffff"/><stop offset="0.75" stop-color="#e4eefa"/><stop offset="1" stop-color="#9bbde6"/></radialGradient>
<pattern id="hatch" width="2" height="2" patternUnits="userSpaceOnUse"><rect width="2" height="2" fill="#f6f6f6"/><rect width="1" height="1" fill="#ffffff"/><rect x="1" y="1" width="1" height="1" fill="#ffffff"/></pattern>
<linearGradient id="bub" x1="0" y1="0" x2="0" y2="1"><stop offset="0" stop-color="#ffffff"/><stop offset="1" stop-color="#cfd2da"/></linearGradient>
</defs>
<rect x="0" y="0" width="1673" height="29" fill="#f0f0f0"/>
<rect x="0" y="0" width="1673" height="1" fill="#a0a0a0"/>
<rect x="0" y="1" width="1673" height="1" fill="#ffffff"/>
<rect x="0" y="27" width="1673" height="1" fill="#a0a0a0"/>
<rect x="0" y="28" width="1673" height="1" fill="#696969"/>
<rect x="0" y="29" width="1673" height="2" fill="#ffffff"/>

<!-- new order icon -->
<g>
<path d="M-1 8H5.6L8.6 11V19.4H-1Z" fill="#fdfdfd" stroke="#9a9a9a" stroke-width="0.9"/>
<path d="M5.6 8V11H8.6" fill="#e8e8e8" stroke="#9a9a9a" stroke-width="0.7"/>
<path d="M0 11.5H4.4M0 13.5H5M0 15.5H3" stroke="#a4a4a4" stroke-width="0.9"/>
<path d="M5.2 14.2H8.8V17.7H12.7V21.2H8.8V24.6H5.2V21.2H1.5V17.7H5.2Z" fill="url(#grn)" stroke="#0f8a1c" stroke-width="0.9"/>
<path d="M6.2 15.4V23.4M2.8 19H11.4" stroke="#7cf07c" stroke-width="0.8" opacity="0.7"/>
</g>
<text x="15.6" y="18.4" font-size="12" fill="#000" textLength="36.2" lengthAdjust="spacingAndGlyphs">新订单</text>

<!-- gold book -->
<g>
<path d="M64.4 16.6L69 8.4L79.8 15.2L72.2 21.4Z" fill="url(#gold)" stroke="#a87008" stroke-width="0.9"/>
<path d="M64.4 16.6L64.6 18.4L72.2 23L72.2 21.4Z" fill="#d89a18" stroke="#a87008" stroke-width="0.7"/>
<path d="M72.2 21.4L79.8 15.2L79.8 16.8L72.2 23Z" fill="#f4dc98" stroke="#a87008" stroke-width="0.7"/>
<path d="M66.6 16L69.8 10.4L77 15" fill="none" stroke="#fff2a8" stroke-width="0.8" opacity="0.8"/>
</g>

<!-- server cloud -->
<g>
<path d="M94.2 9.2L98 7.2H105.4V16.6H94.2Z" fill="#2a86ee" stroke="#2070d8" stroke-width="0.7"/>
<path d="M98.6 9.4H105V16.6H98.6Z" fill="#dcecfc"/>
<path d="M99.4 11.4H104.4M99.4 13.6H104.4" stroke="#3c8ce8" stroke-width="1.1"/>
<path d="M95.4 22.8C92 22.8 91.6 19.2 94.6 18.6C94.8 16 98.6 15.4 99.8 17.6C101.4 15.6 105.2 16.4 105.2 19C108.6 19 108.6 22.8 105.4 22.8Z" fill="#f2f6fc" stroke="#7c9cd0" stroke-width="0.9"/>
<path d="M93.6 21.6C96 22.6 104 22.6 107 21.4" fill="none" stroke="#9cb8e4" stroke-width="1"/>
</g>

<!-- signal -->
<g fill="none">
<path d="M128 14.6L128 22.6A8 8 0 0 0 135.6 12Z" fill="#58b060" opacity="0.75" stroke="none"/>
<path d="M128 14.6L128 20A5.4 5.4 0 0 0 133.2 13Z" fill="#2e9a3a" opacity="0.55" stroke="none"/>
<path d="M128 22.4A7.6 7.6 0 1 1 135.4 12.4" stroke="#a8c0e8" stroke-width="1.2" stroke-dasharray="2.2,1"/>
<path d="M128 19.8A5.2 5.2 0 1 1 133 13" stroke="#6c94dc" stroke-width="1.2" stroke-dasharray="2.2,1"/>
<path d="M128 17.4A2.8 2.8 0 1 1 130.6 13.6" stroke="#4a78d0" stroke-width="1.1"/>
<path d="M128 14.8V22.6" stroke="#1f9a30" stroke-width="1.5"/>
<circle cx="127.8" cy="14.4" r="1.5" fill="#2860d0" stroke="none"/>
</g>

<!-- auto trading -->
<g>
<path d="M148 13.6L153.4 21.6C154.6 23 156.4 23 157.6 22L162.4 13.8Z" fill="#f8d038" stroke="#c8981c" stroke-width="0.7"/>
<path d="M149.4 14.6L154 21.2" stroke="#fff0a0" stroke-width="1" fill="none"/>
<ellipse cx="155" cy="12.8" rx="8" ry="2.8" fill="#5c9cd8" stroke="#3c78bc" stroke-width="0.7"/>
<path d="M150.8 12.2C151 8.4 153 7 155.2 7C157.6 7 159.4 8.4 159.6 12.2C157 13.4 153.6 13.4 150.8 12.2Z" fill="#8cc4f0" stroke="#3c78bc" stroke-width="0.7"/>
<circle cx="159.5" cy="18.7" r="4.1" fill="#dc241c" stroke="#a0140c" stroke-width="0.7"/>
<rect x="157.9" y="17.1" width="3.2" height="3.2" fill="#fff"/>
</g>
<text x="168.2" y="18.4" font-size="12" fill="#000" textLength="47.6" lengthAdjust="spacingAndGlyphs">自动交易</text>

<!-- separator + grip -->
<rect x="223" y="2" width="1" height="25" fill="#8a8a8a"/><rect x="224" y="2" width="1" height="25" fill="#fbfbfb"/>
<g fill="#9e9e9e"><rect x="227" y="5" width="3" height="1"/><rect x="227" y="7" width="3" height="1"/><rect x="227" y="9" width="3" height="1"/><rect x="227" y="11" width="3" height="1"/><rect x="227" y="13" width="3" height="1"/><rect x="227" y="15" width="3" height="1"/><rect x="227" y="17" width="3" height="1"/><rect x="227" y="19" width="3" height="1"/><rect x="227" y="21" width="3" height="1"/><rect x="227" y="23" width="3" height="1"/></g>

<!-- bar chart icon -->
<g fill="none" stroke="#484848" stroke-width="1.2">
<path d="M241.5 9V22.4M239.6 20.6H252.6M240 10.6L241.5 9L243 10.6M251 19.2L252.6 20.6L251 22"/>
<path d="M248 11V18.6M248 11.4H250M246 18H248" stroke="#128a22" stroke-width="1.4"/>
</g>
<!-- candle icon pressed -->
<rect x="261.5" y="3.5" width="24.4" height="21.4" fill="url(#hatch)" stroke="#ffffff" stroke-width="1"/>
<path d="M261.5 25V3.5H286" fill="none" stroke="#9c9c9c" stroke-width="1"/>
<g fill="none" stroke="#484848" stroke-width="1.2">
<path d="M269.4 9V22.4M267.4 20.6H280.6M267.9 10.6L269.4 9L270.9 10.6M279 19.2L280.6 20.6L279 22"/>
<path d="M275.6 7V18.6" stroke="#0e7a1c" stroke-width="1.2"/>
<rect x="273.6" y="9.4" width="4" height="6.6" fill="#2fd040" stroke="#0e7a1c" stroke-width="1"/>
</g>
<!-- line chart icon -->
<g fill="none" stroke="#484848" stroke-width="1.2">
<path d="M297.4 9V22.4M295.4 20.6H308.6M295.9 10.6L297.4 9L298.9 10.6M307 19.2L308.6 20.6L307 22"/>
<path d="M297 18.2C299.6 14 302 11 304.2 12.8C305.6 14 306.8 15.4 307.8 16" stroke="#128a22" stroke-width="1.2"/>
</g>
<rect x="318" y="4" width="1" height="21" fill="#a8a8a8"/>

<!-- zoom in -->
<g>
<path d="M336.6 17.6L341.8 22.4" stroke="#c8a020" stroke-width="3" stroke-linecap="round"/>
<path d="M336.6 17.6L341.8 22.4" stroke="#f0d468" stroke-width="1.2" stroke-linecap="round"/>
<circle cx="333" cy="13" r="5.4" fill="url(#lens)" stroke="#3c7cd0" stroke-width="1.4"/>
<path d="M330.2 13H335.8M333 10.2V15.8" stroke="#2a6cc8" stroke-width="1.6"/>
</g>
<!-- zoom out -->
<g>
<path d="M364.6 17.6L369.8 22.4" stroke="#c8a020" stroke-width="3" stroke-linecap="round"/>
<path d="M364.6 17.6L369.8 22.4" stroke="#f0d468" stroke-width="1.2" stroke-linecap="round"/>
<circle cx="361" cy="13" r="5.4" fill="url(#lens)" stroke="#3c7cd0" stroke-width="1.4"/>
<path d="M358.2 13H363.8" stroke="#2a6cc8" stroke-width="1.6"/>
</g>
<!-- tile -->
<g>
<rect x="383" y="7" width="7.6" height="7.4" fill="#3aa02c"/><rect x="391.4" y="7" width="7.6" height="7.4" fill="#2c64d0"/>
<rect x="383" y="15.2" width="7.6" height="7.4" fill="#2c64d0"/><rect x="391.4" y="15.2" width="7.6" height="7.4" fill="#3aa02c"/>
<rect x="384.2" y="10" width="5.2" height="3.2" fill="#f0f8f0"/><rect x="392.6" y="10" width="5.2" height="3.2" fill="#eef2fc"/>
<rect x="384.2" y="18.2" width="5.2" height="3.2" fill="#eef2fc"/><rect x="392.6" y="18.2" width="5.2" height="3.2" fill="#f0f8f0"/>
</g>
<rect x="408" y="4" width="1" height="21" fill="#a8a8a8"/>

<!-- autoscroll pressed -->
<rect x="413.5" y="3.5" width="24.4" height="21.4" fill="url(#hatch)" stroke="#ffffff" stroke-width="1"/>
<path d="M413.5 25V3.5H438" fill="none" stroke="#9c9c9c" stroke-width="1"/>
<g fill="none" stroke="#484848" stroke-width="1.2">
<path d="M421.4 9V22.4M419.4 20.6H432.6M419.9 10.6L421.4 9L422.9 10.6M431 19.2L432.6 20.6L431 22"/>
<path d="M426.4 11.4L430 14.4L426.4 17.4Z" fill="#5ad060" stroke="#128a22" stroke-width="1"/>
</g>
<!-- chart shift pressed -->
<rect x="441.5" y="3.5" width="24.4" height="21.4" fill="url(#hatch)" stroke="#ffffff" stroke-width="1"/>
<path d="M441.5 25V3.5H466" fill="none" stroke="#9c9c9c" stroke-width="1"/>
<g fill="none" stroke="#484848" stroke-width="1.2">
<path d="M449.4 9V22.4M447.4 20.6H460.6M447.9 10.6L449.4 9L450.9 10.6M459 19.2L460.6 20.6L459 22"/>
<path d="M455.6 9V19" stroke="#1c5c9c" stroke-width="1.2"/>
<path d="M461 14.4H457M458.8 12.6L457 14.4L458.8 16.2" stroke="#d8401c" stroke-width="1.2"/>
</g>
<rect x="470" y="4" width="1" height="21" fill="#a8a8a8"/>

<!-- indicators -->
<g>
<path d="M480.5 8H487.5L490.5 11V20H480.5Z" fill="#fafafa" stroke="#8a8a8a" stroke-width="0.9"/>
<path d="M484.6 11C483.4 11 483.2 12 483.2 13V17.4" fill="none" stroke="#606060" stroke-width="0.9"/>
<path d="M487.4 13.4H491.2V16.8H495.4V20.6H491.2V24.2H487.4V20.6H483.6V16.8H487.4Z" fill="url(#grn)" stroke="#0b7a18" stroke-width="0.8"/>
</g>
<polygon points="502,13.6 507.2,13.6 504.6,16.4" fill="#111"/>
<!-- clock -->
<g>
<circle cx="526" cy="14.8" r="7.4" fill="#2468c8" stroke="#184c9c" stroke-width="0.8"/>
<circle cx="526" cy="14.6" r="5.6" fill="url(#clk)"/>
<path d="M526 10.6V15H529" fill="none" stroke="#404858" stroke-width="1.1"/>
</g>
<polygon points="540.8,13.6 546,13.6 543.4,16.4" fill="#111"/>
<!-- template -->
<g>
<rect x="557.5" y="8.5" width="15" height="13" fill="#fcfcfc" stroke="#3c74c8" stroke-width="1"/>
<rect x="558" y="9" width="14" height="2.2" fill="#5c94e0"/>
<path d="M558 15.6H572" stroke="#3c74c8" stroke-width="0.8"/>
<path d="M559.4 14L562 13L564.4 13.6L567 12.4L570.6 12.6" fill="none" stroke="#a82c14" stroke-width="1.1"/>
<path d="M559.4 19.4L562 18.2L564.4 19.2L567.4 17.6L570.6 19.4" fill="none" stroke="#1c9a2c" stroke-width="1.1"/>
</g>
<polygon points="579.4,13.6 584.6,13.6 582,16.4" fill="#111"/>

<rect x="591" y="2" width="1" height="25" fill="#8a8a8a"/><rect x="592" y="2" width="1" height="25" fill="#fbfbfb"/>
<g fill="#9e9e9e"><rect x="595" y="5" width="3" height="1"/><rect x="595" y="7" width="3" height="1"/><rect x="595" y="9" width="3" height="1"/><rect x="595" y="11" width="3" height="1"/><rect x="595" y="13" width="3" height="1"/><rect x="595" y="15" width="3" height="1"/><rect x="595" y="17" width="3" height="1"/><rect x="595" y="19" width="3" height="1"/><rect x="595" y="21" width="3" height="1"/><rect x="595" y="23" width="3" height="1"/></g>

<!-- cursor pressed -->
<rect x="601.5" y="3.5" width="24.4" height="21.4" fill="url(#hatch)" stroke="#ffffff" stroke-width="1"/>
<path d="M601.5 25V3.5H626" fill="none" stroke="#9c9c9c" stroke-width="1"/>
<path d="M609.4 8V20L612.2 17.4L614.2 22L616 21.2L614 16.8H617.6Z" fill="#3c3c3c"/>
<!-- crosshair -->
<path d="M641.5 8.4V22.6M634 15.5H649" stroke="#484848" stroke-width="1.1" fill="none"/>
<rect x="640.6" y="14.6" width="1.8" height="1.8" fill="#f0f0f0"/>
<rect x="658" y="4" width="1" height="21" fill="#a8a8a8"/>
<!-- vline -->
<path d="M675.5 9V22" stroke="#484848" stroke-width="1.2"/>
<!-- hline -->
<path d="M697.6 15.2H710.2" stroke="#484848" stroke-width="1.2"/>
<!-- trend -->
<path d="M725.8 22L738.2 9.8" stroke="#484848" stroke-width="1.2"/>
<!-- channel -->
<g stroke="#484848" stroke-width="1" fill="none">
<path d="M752 17L763.6 8.6M753 21.6L766 12.6M754.6 14.6L753 21M758 12.4L756.4 19.2M761.4 10L759.8 17M764.8 7.4L763.2 14.6"/>
</g>
<text x="762.4" y="24" font-size="6.6" font-weight="bold" fill="#303030">E</text>
<!-- fibo -->
<g stroke="#585858" stroke-width="1" stroke-dasharray="1,1" fill="none">
<path d="M781 8.5H795M781 11.5H795M781 15.5H795M781 19.5H791"/>
</g>
<text x="790.6" y="24" font-size="6.6" font-weight="bold" fill="#303030">F</text>
<!-- A -->
<text x="811.4" y="19.8" font-size="11.4" font-weight="bold" fill="#484848">A</text>
<!-- T box -->
<rect x="837.5" y="9.5" width="12" height="12" fill="none" stroke="#505050" stroke-width="1" stroke-dasharray="1,1"/>
<rect x="836.8" y="8" width="2" height="2" fill="#404040"/>
<text x="840" y="20" font-size="10.4" font-weight="bold" fill="#484848">T</text>
<!-- arrows -->
<g fill="#3c3c3c">
<path d="M865 12.4L868 9.2L871 12.4L868 15.6Z"/>
<path d="M872.6 19L875.6 16L878.8 19L875.6 22Z"/>
<path d="M867 16L869 18L873.4 13.4" fill="none" stroke="#3c3c3c" stroke-width="1.2"/>
</g>
<polygon points="885.4,13.6 890.6,13.6 888,16.4" fill="#111"/>

<rect x="897" y="2" width="1" height="25" fill="#8a8a8a"/><rect x="898" y="2" width="1" height="25" fill="#fbfbfb"/>
<g fill="#9e9e9e"><rect x="901" y="5" width="3" height="1"/><rect x="901" y="7" width="3" height="1"/><rect x="901" y="9" width="3" height="1"/><rect x="901" y="11" width="3" height="1"/><rect x="901" y="13" width="3" height="1"/><rect x="901" y="15" width="3" height="1"/><rect x="901" y="17" width="3" height="1"/><rect x="901" y="19" width="3" height="1"/><rect x="901" y="21" width="3" height="1"/><rect x="901" y="23" width="3" height="1"/></g>

<!-- timeframes -->
<rect x="1047.5" y="3.5" width="24.4" height="21.4" fill="url(#hatch)" stroke="#ffffff" stroke-width="1"/>
<path d="M1047.5 25V3.5H1072" fill="none" stroke="#9c9c9c" stroke-width="1"/>
<g class="tf" text-anchor="middle">
<text class="tf" transform="translate(919 19) scale(0.93 1)">M1</text>
<text class="tf" transform="translate(947 19) scale(0.93 1)">M5</text>
<text class="tf" transform="translate(975.3 19) scale(0.93 1)">M15</text>
<text class="tf" transform="translate(1003.5 19) scale(0.93 1)">M30</text>
<text class="tf" transform="translate(1031.4 19) scale(0.93 1)">H1</text>
<text class="tf" transform="translate(1059.2 19) scale(0.93 1)">H4</text>
<text class="tf" transform="translate(1087.5 19) scale(0.93 1)">D1</text>
<text class="tf" transform="translate(1116 19) scale(0.93 1)">W1</text>
<text class="tf" transform="translate(1143 19) scale(0.93 1)">MN</text>
</g>
<rect x="1158" y="2" width="1" height="25" fill="#8a8a8a"/><rect x="1159" y="2" width="1" height="25" fill="#fbfbfb"/>

<!-- search -->
<g>
<path d="M1625.8 15.4L1620.8 20" stroke="#2a54c4" stroke-width="2.4" stroke-linecap="round"/>
<circle cx="1628.7" cy="12.5" r="3.9" fill="#f8fbff" stroke="#2a5cd0" stroke-width="1.3"/>
</g>
<!-- chat -->
<g>
<path d="M1661.4 7.2C1665.2 7.2 1667.8 9.2 1667.8 12C1667.8 14 1666.4 15.4 1664.6 16.2L1664.8 18.6L1662 16.8C1658 17 1655 15 1655 12C1655 9.2 1657.6 7.2 1661.4 7.2Z" fill="url(#bub)" stroke="#90949c" stroke-width="0.9"/>
<path d="M1652 12.2C1655 12.2 1657 13.8 1657 16C1657 18.2 1654.6 19.6 1651.6 19.6L1649.8 21.6L1650 19.2C1648.2 18.6 1647.2 17.4 1647.2 16C1647.2 13.8 1649.2 12.2 1652 12.2Z" fill="url(#bub)" stroke="#90949c" stroke-width="0.9"/>
</g>
</svg></div>

</body></html>
